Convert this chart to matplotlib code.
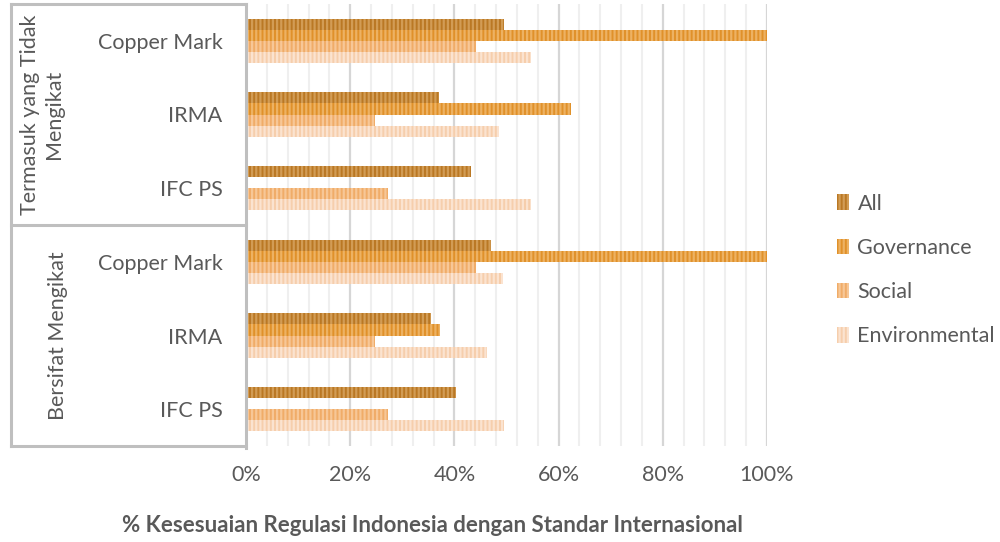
import numpy as np
import matplotlib
matplotlib.use('Agg')
import matplotlib.pyplot as plt
import matplotlib.transforms as mtransforms
from matplotlib.ticker import PercentFormatter, MultipleLocator
from matplotlib.patches import Patch

# data (percent)
groups = ['Termasuk yang Tidak\nMengikat', 'Bersifat Mengikat']
standards = ['Copper Mark', 'IRMA', 'IFC PS']
series = ['All', 'Governance', 'Social', 'Environmental']
all_vals = [49.5, 37.0, 43.2, 47.0, 35.5, 40.3]
gov_vals = [100.0, 62.4, 0.0, 100.0, 37.2, 0.0]
soc_vals = [44.2, 24.8, 27.3, 44.2, 24.8, 27.3]
env_vals = [54.7, 48.6, 54.7, 49.3, 46.3, 49.5]

face = ['#BA7824', '#E0912A', '#F0AC68', '#F6CEAC']
stripe = ['#D29C55', '#EDB263', '#F7C797', '#FBE3D0']
text_col = '#595959'
line_col = '#BFBFBF'
fs = 15.5

plt.rcParams['font.family'] = ['Lato', 'DejaVu Sans']
plt.rcParams['hatch.linewidth'] = 1.6

fig = plt.figure(figsize=(10, 5.42), dpi=100)
ax = fig.add_axes([0.246, 1 - 446 / 542, 0.521, 442 / 542])

labels = standards * len(groups)
y = np.arange(len(labels))
h = 0.15
offs = [-1.5 * h, -0.5 * h, 0.5 * h, 1.5 * h]
for vals, off, fc, sc in zip([all_vals, gov_vals, soc_vals, env_vals], offs, face, stripe):
    ax.barh(y + off, vals, height=h, color=fc, edgecolor=sc, linewidth=0,
            hatch='||||', zorder=3)

ax.set_xlim(0, 100)
ax.set_ylim(len(labels) - 0.5, -0.5)
ax.xaxis.set_major_locator(MultipleLocator(20))
ax.xaxis.set_minor_locator(MultipleLocator(4))
ax.xaxis.set_major_formatter(PercentFormatter(100, decimals=0))
ax.grid(axis='x', which='minor', color='#EFEFEF', linewidth=1.5, zorder=0)
ax.grid(axis='x', which='major', color='#D6D6D6', linewidth=1.6, zorder=0)
ax.set_axisbelow(True)
for s in ax.spines.values():
    s.set_visible(False)
ax.tick_params(axis='both', which='both', length=0, labelcolor=text_col, labelsize=fs)
ax.tick_params(axis='x', pad=14)
ax.tick_params(axis='y', pad=17)
ax.set_yticks(y)
ax.set_yticklabels(labels)

# multi-level category axis lines
tr = mtransforms.blended_transform_factory(ax.transAxes, ax.transData)
x0 = (11 - 246) / 521
lw = 2.2
ax.plot([0, 0], [-0.5, 5.53], color=line_col, lw=lw, transform=tr, clip_on=False, zorder=5)
for yy in [-0.5, 2.5, 5.5]:
    ax.plot([x0, 0], [yy, yy], color=line_col, lw=lw, transform=tr, clip_on=False)
ax.plot([x0, x0], [-0.5, 5.5], color=line_col, lw=lw, transform=tr, clip_on=False)

ax.text((42 - 246) / 521, 1, groups[0], rotation=90, ha='center', va='center',
        fontsize=fs, color=text_col, linespacing=1.3, transform=tr, multialignment='center')
ax.text((58 - 246) / 521, 4, groups[1], rotation=90, ha='center', va='center',
        fontsize=fs, color=text_col, transform=tr)

handles = [Patch(facecolor=fc, edgecolor=sc, linewidth=0, hatch='||||') for fc, sc in zip(face, stripe)]
leg = fig.legend(handles, series, loc='center left', bbox_to_anchor=(0.837, 1 - 270 / 542),
                 frameon=False, fontsize=fs, handlelength=0.55, handleheight=0.75,
                 handletextpad=0.4, labelspacing=1.12, borderaxespad=0, borderpad=0)
for t in leg.get_texts():
    t.set_color(text_col)

fig.text(0.432, 1 - 526 / 542, '% Kesesuaian Regulasi Indonesia dengan Standar Internasional',
         ha='center', va='center', fontsize=16, fontweight='bold', color=text_col)

fig.savefig('out.png', dpi=100)
